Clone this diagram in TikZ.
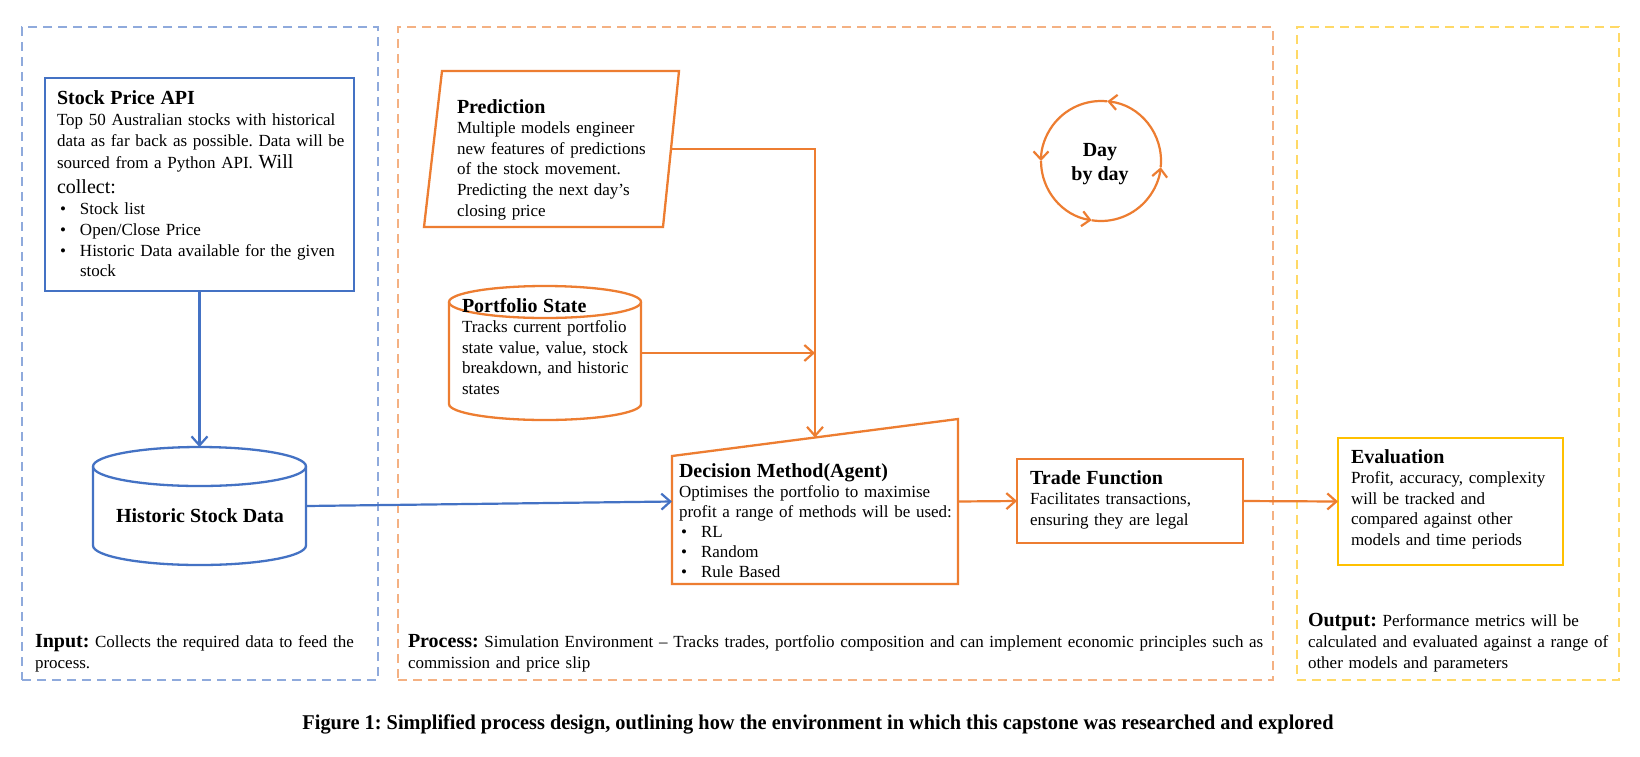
\documentclass[tikz,border=0pt]{standalone}
\usepackage{fontspec}
\setmainfont{Liberation Serif}
\usepackage{graphicx}
\usetikzlibrary{arrows.meta,shapes.geometric,calc}
\definecolor{wblue}{HTML}{4472C4}
\definecolor{worange}{HTML}{ED7D31}
\definecolor{wgold}{HTML}{FFC000}
\definecolor{lblue}{HTML}{8FAADC}
\definecolor{lorange}{HTML}{F4B183}
\definecolor{lgold}{HTML}{FFD966}
\newcommand\bulA{\hspace*{3pt}\makebox[20pt][l]{•}}
\newcommand\bulB{\hspace*{2pt}\makebox[20pt][l]{•}}
\newcommand\ttlf{\fontsize{20}{21}\selectfont\bfseries}
\frenchspacing
\begin{document}
\frenchspacing
\begin{tikzpicture}[x=1pt,y=-1pt,
  every node/.style={inner sep=0pt, outer sep=0pt},
  box/.style={draw, line width=2.3pt, rectangle},
  hidden/.style={rectangle, draw=none},
  frame/.style={draw, line width=2pt, dash pattern=on 9pt off 6pt},
  arr/.style={line width=2.2pt, -{Straight Barb[length=9pt,width=16pt]}},
  cyca/.style={worange, line width=2.2pt, -{Straight Barb[length=8pt,width=15pt]}},
  body/.style={anchor=base west, align=left, text width=#1, font=\fontsize{17}{21}\selectfont},
  body/.default=400pt
]
\useasboundingbox (0,0) rectangle (1640,756);
\fill[white] (0,0) rectangle (1640,756);

% frames
\node[frame, draw=lblue, minimum width=356pt, minimum height=653pt] (inframe) at (200,353.5) {};
\node[frame, draw=lorange, minimum width=875pt, minimum height=653pt] (procframe) at (835.5,353.5) {};
\node[frame, draw=lgold, minimum width=322pt, minimum height=653pt] (outframe) at (1458,353.5) {};

% Stock price API
\node[box, draw=wblue, minimum width=309pt, minimum height=213pt] (api) at (199.5,184.5) {};
\node[body=300pt] (apitxt) at (57,104) {{\ttlf Stock Price API}\\
Top 50 Australian stocks with historical\\
data as far back as possible. Data will be\\[1pt]
sourced from a Python API. {\fontsize{20}{21}\selectfont Will}\\[4pt]
{\fontsize{20}{21}\selectfont collect:}\\
\bulA Stock list\\
\bulA Open/Close Price\\
\bulA Historic Data available for the given\\[-1pt]
\hspace*{23pt}stock};

% Historic stock data cylinder
\node[hidden, minimum width=213pt, minimum height=118pt] (hist) at (199.5,506) {};
\draw[wblue, line width=2.3pt] ($(hist.north)+(0,19.5)$) ellipse [x radius=106.5, y radius=19.5];
\draw[wblue, line width=2.3pt] ($(hist.north west)+(0,19.5)$) -- ($(hist.south west)+(0,-19.5)$)
  arc[start angle=180, end angle=0, x radius=106.5, y radius=19.5] -- ($(hist.north east)+(0,19.5)$);
\node[anchor=base, font=\fontsize{20}{21}\selectfont\bfseries] (histtxt) at (200,522) {Historic Stock Data};

% Prediction (parallelogram)
\node[hidden, minimum width=255pt, minimum height=156pt] (pred) at (551.5,149) {};
\draw[worange, line width=2.3pt] (pred.south west) -- ($(pred.south east)+(-16,0)$) -- (pred.north east)
  -- ($(pred.north west)+(18,0)$) -- cycle;
\coordinate (predR) at ($(pred.east)+(-8,0)$);
\node[body=240pt, font=\fontsize{17}{20.6}\selectfont] (predtxt) at (457,113) {{\ttlf Prediction}\\
Multiple models engineer\\
new features of predictions\\
of the stock movement.\\
Predicting the next day’s\\
closing price};

% Portfolio state cylinder
\node[hidden, minimum width=192pt, minimum height=134pt] (port) at (545,353) {};
\draw[worange, line width=2.3pt] ($(port.north)+(0,16)$) ellipse [x radius=96, y radius=16];
\draw[worange, line width=2.3pt] ($(port.north west)+(0,16)$) -- ($(port.south west)+(0,-16)$)
  arc[start angle=180, end angle=0, x radius=96, y radius=16] -- ($(port.north east)+(0,16)$);
\node[body=240pt, font=\fontsize{17}{20.5}\selectfont] (porttxt) at (462,312) {{\ttlf Portfolio State}\\
Tracks current portfolio\\
state value, value, stock\\
breakdown, and historic\\
states};

% Decision method
\node[hidden, minimum width=286pt, minimum height=165pt] (dec) at (815,501.5) {};
\draw[worange, line width=2.3pt] (dec.south west) -- (dec.south east) -- (dec.north east)
  -- ($(dec.north west)+(0,37)$) -- cycle;
\coordinate (dectop) at ($(dec.north)+(0,18.5)$);
\node[body=300pt, font=\fontsize{17}{20}\selectfont] (dectxt) at (679,477) {{\ttlf Decision Method(Agent)}\\
Optimises the portfolio to maximise\\
profit a range of methods will be used:\\
\bulB RL\\
\bulB Random\\
\bulB Rule Based};

% Trade function
\node[box, draw=worange, minimum width=226pt, minimum height=84pt] (trade) at (1130,501) {};
\node[body=220pt, font=\fontsize{17}{20.5}\selectfont] (tradetxt) at (1030,484) {{\ttlf Trade Function}\\
Facilitates transactions,\\
ensuring they are legal};

% Evaluation
\node[box, draw=wgold, minimum width=225pt, minimum height=127pt] (eval) at (1450.5,501.5) {};
\node[body=220pt, font=\fontsize{17}{20.5}\selectfont] (evaltxt) at (1351,463) {{\ttlf Evaluation}\\
Profit, accuracy, complexity\\
will be tracked and\\
compared against other\\
models and time periods};

% Day by day cycle
\node[hidden, circle, minimum size=120pt] (cyc) at (1101,161) {};
\draw[cyca] ($(cyc.center)+(6:60)$) arc[start angle=6, end angle=-84, radius=60];
\draw[cyca] ($(cyc.center)+(-84:60)$) arc[start angle=-84, end angle=-180, radius=60];
\draw[cyca] ($(cyc.center)+(-180:60)$) arc[start angle=-180, end angle=-261, radius=60];
\draw[cyca] ($(cyc.center)+(-261:60)$) arc[start angle=-261, end angle=-354, radius=60];
\node[anchor=base, align=center, font=\fontsize{20}{24}\selectfont\bfseries] (daytxt) at (1100,180) {Day\\by day};

% connectors
\draw[arr, wblue] (api.south) -- (hist.north);
\draw[arr, wblue] (hist.east) -- (dec.west);
\draw[arr, worange] (predR) -| (dectop);
\draw[arr, worange] (port.east) -- (port.east -| dectop);
\draw[arr, worange] (dec.east) -- (trade.west);
\draw[arr, worange] (trade.east) -- (eval.west);

% frame labels
\node[body=340pt] (inlbl) at (35,647) {{\ttlf Input:} Collects the required data to feed the\\
process.};
\node[body=900pt] (proclbl) at (408,647) {{\ttlf Process:} Simulation Environment – Tracks trades, portfolio composition and can implement economic principles such as\\
commission and price slip};
\node[body=330pt] (outlbl) at (1308,626) {{\ttlf Output:} Performance metrics will be\\
calculated and evaluated against a range of\\
other models and parameters};

% caption
\node[anchor=base, font=\fontsize{21}{21}\selectfont\bfseries] (cap) at (818,729)
  {\resizebox{1031pt}{\height}{Figure 1: Simplified process design, outlining how the environment in which this capstone was researched and explored}};
\end{tikzpicture}
\end{document}
